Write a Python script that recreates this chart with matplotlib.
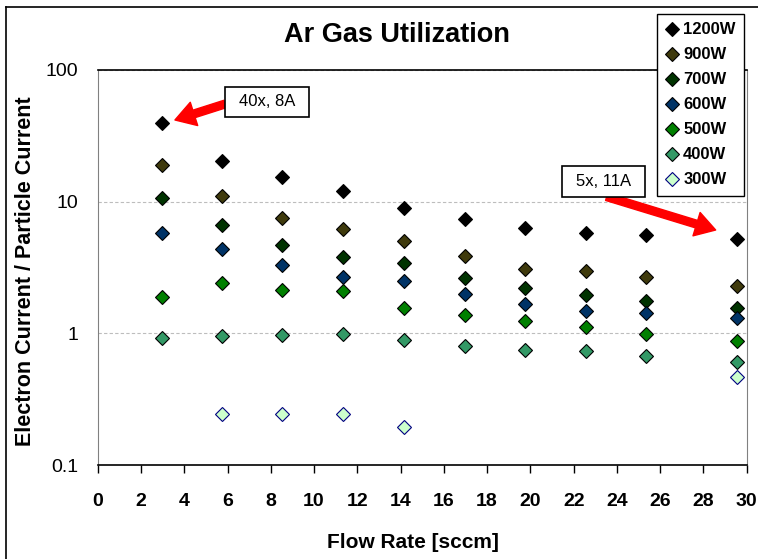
import numpy as np
import matplotlib
matplotlib.use("Agg")
import matplotlib.pyplot as plt
from matplotlib.lines import Line2D
from matplotlib.patches import Rectangle

plt.rcParams['font.family'] = ['Liberation Sans', 'DejaVu Sans']

# flow rate [sccm] and electron/particle current ratio per RF power
flow = [2.96, 5.75, 8.53, 11.33, 14.17, 16.98, 19.77, 22.56, 25.36, 29.56]
nan = np.nan
ratio = {
    "1200W": [39.5, 20.3, 15.4, 12.1, 9.0, 7.4, 6.3, 5.8, 5.6, 5.2],
    "900W": [19.0, 11.1, 7.5, 6.2, 5.0, 3.9, 3.1, 3.0, 2.7, 2.3],
    "700W": [10.7, 6.6, 4.7, 3.8, 3.4, 2.65, 2.2, 1.95, 1.76, 1.57],
    "600W": [5.8, 4.4, 3.3, 2.7, 2.5, 2.0, 1.67, 1.48, 1.43, 1.30],
    "500W": [1.89, 2.42, 2.12, 2.09, 1.57, 1.39, 1.25, 1.11, 0.99, 0.88],
    "400W": [0.93, 0.96, 0.97, 0.99, 0.89, 0.81, 0.75, 0.73, 0.67, 0.61],
    "300W": [nan, 0.243, 0.247, 0.247, 0.196, nan, nan, nan, nan, 0.47],
}
face = {
    "1200W": "#000000", "900W": "#3f3a0c", "700W": "#003300",
    "600W": "#003366", "500W": "#008000", "400W": "#339966",
    "300W": "#ccffcc",
}
edge = {k: "#000000" for k in face}
edge["300W"] = "#000080"

xticks = list(range(0, 31, 2))
yticks = [0.1, 1, 10, 100]
yticklabels = ["0.1", "1", "10", "100"]

fig = plt.figure(figsize=(7.58, 5.59), dpi=100)
ax = fig.add_axes([0.1289, 0.1676, 0.8562, 0.7077])

for name, vals in ratio.items():
    ax.plot(flow, vals, linestyle="none", marker="D", markersize=7.5,
            markerfacecolor=face[name], markeredgecolor=edge[name],
            markeredgewidth=0.8, label=name, zorder=3)

ax.set_yscale("log")
ax.set_xlim(0, 30)
ax.set_ylim(0.1, 100)
ax.set_xticks(xticks)
ax.set_yticks(yticks)
ax.set_yticklabels(yticklabels)
ax.yaxis.set_minor_locator(matplotlib.ticker.NullLocator())
ax.tick_params(axis="x", direction="out", length=6, width=1, pad=14,
               labelsize=14)
for t in ax.get_xticklabels():
    t.set_fontweight("bold")
ax.tick_params(axis="y", length=0, pad=14, labelsize=14)

ax.grid(axis="y", which="major", color="#bdbdbd", linestyle=(0, (3, 2)),
        linewidth=0.8)
ax.set_axisbelow(True)
for side in ("left", "right"):
    ax.spines[side].set_color("#808080")
for side in ("top", "bottom"):
    ax.spines[side].set_color("#000000")
ax.spines["top"].set_linewidth(1.2)
ax.spines["bottom"].set_linewidth(1.2)

fig.text(0.524, 0.937, "Ar Gas Utilization", ha="center", va="center",
         fontsize=19.5, fontweight="bold")
fig.text(0.545, 0.029, "Flow Rate [sccm]", ha="center", va="center",
         fontsize=15, fontweight="bold")
fig.text(0.033, 0.515, "Electron Current / Particle Current", ha="center",
         va="center", rotation=90, fontsize=15.5, fontweight="bold")

# callout boxes with red arrows
callouts = [
    ("40x, 8A", (0.1962, 0.8804, 0.1294, 0.0766), (0.1962, 0.9133), (0.119, 0.8729)),
    ("5x, 11A", (0.7150, 0.6790, 0.1283, 0.0776), (0.7843, 0.6790), (0.9522, 0.5948)),
]
for label, (bx, by, bw, bh), tail, tip in callouts:
    ax.add_patch(Rectangle((bx, by), bw, bh, transform=ax.transAxes,
                           facecolor="white", edgecolor="black", lw=1.2,
                           zorder=5))
    ax.text(bx + bw / 2, by + bh / 2, label, transform=ax.transAxes,
            ha="center", va="center", fontsize=12, zorder=6)
    ax.annotate("", xy=tip, xytext=tail, xycoords="axes fraction",
                textcoords="axes fraction", zorder=4,
                arrowprops=dict(arrowstyle="simple,head_width=1.1,head_length=0.9,tail_width=0.35",
                                color="red", mutation_scale=16,
                                shrinkA=0, shrinkB=0))

leg = ax.legend(loc="upper right", bbox_to_anchor=(744 / 758, 1 - 14 / 559),
                bbox_transform=fig.transFigure, frameon=True, fancybox=False,
                framealpha=1, edgecolor="black", borderaxespad=0,
                handlelength=0.7, handletextpad=0.35, borderpad=0.5,
                labelspacing=0.6, prop={"size": 12, "weight": "bold"})
leg.get_frame().set_linewidth(1.0)
leg.set_zorder(10)

# outer chart border (left and top edges)
fig.add_artist(Line2D([6.3 / 758, 6.3 / 758], [0, 1 - 7.3 / 559],
                      transform=fig.transFigure, color="black", lw=1.2))
fig.add_artist(Line2D([6.3 / 758, 1], [1 - 7.3 / 559, 1 - 7.3 / 559],
                      transform=fig.transFigure, color="black", lw=1.2))

fig.savefig("out.png", dpi=100)
